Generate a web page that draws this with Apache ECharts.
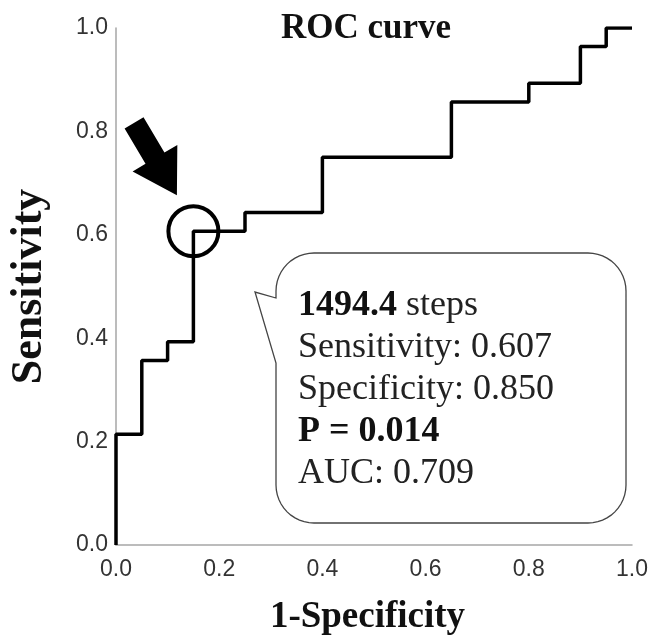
<!DOCTYPE html>
<html lang="en">
<head>
    <meta charset="UTF-8">
    <title>ROC curve</title>
    <style>
        html, body { margin: 0; padding: 0; background: #fff; }
        #main { width: 652px; height: 635px; }
    </style>
    <script src="https://cdn.jsdelivr.net/npm/echarts@6/dist/echarts.min.js"></script>
</head>
<body>
<div id="main"></div>
<script type="text/javascript">

    // ROC vertices (1-specificity, sensitivity)
    var fpr = [0, 0, 0.05, 0.05, 0.10, 0.10, 0.15, 0.15, 0.25, 0.25, 0.40, 0.40, 0.65, 0.65, 0.80, 0.80, 0.90, 0.90, 0.95, 0.95, 1.0];
    var tpr = [0, 0.214, 0.214, 0.357, 0.357, 0.393, 0.393, 0.607, 0.607, 0.643, 0.643, 0.75, 0.75, 0.857, 0.857, 0.893, 0.893, 0.964, 0.964, 1.0, 1.0];

    // cut-off point that is circled
    var cutoff = [0.15, 0.607];

    var calloutLines = [
        ['1494.4', ' steps'],
        ['', 'Sensitivity: 0.607'],
        ['', 'Specificity: 0.850'],
        ['P = 0.014', ''],
        ['', 'AUC: 0.709']
    ];

    var curve = fpr.map(function (x, i) { return [x, tpr[i]]; });

    var serif = 'Liberation Serif';
    var sans = 'Liberation Sans';

    var myChart = echarts.init(document.getElementById('main'));

    var axisCommon = {
        type: 'value',
        min: 0,
        max: 1,
        interval: 0.2,
        axisLine: { show: true, lineStyle: { color: '#a6a6a6', width: 1.5 } },
        axisTick: { show: false },
        splitLine: { show: false },
        axisLabel: {
            color: '#333',
            fontFamily: sans,
            fontSize: 23,
            formatter: function (v) { return v.toFixed(1); }
        }
    };

    var option = {
        animation: false,
        title: {
            text: 'ROC curve',
            left: 276,
            top: 6,
            textStyle: { fontFamily: serif, fontWeight: 'bold', fontSize: 35, color: '#111' }
        },
        grid: { left: 116, right: 20, top: 28, bottom: 90, containLabel: false, outerBoundsMode: 'none' },
        xAxis: Object.assign({}, axisCommon, {
            name: '1-Specificity',
            nameLocation: 'middle',
            nameGap: 54,
            nameTextStyle: { fontFamily: serif, fontWeight: 'bold', fontSize: 37, color: '#111', padding: [0, 13, 0, 0] },
            axisLabel: Object.assign({}, axisCommon.axisLabel, { margin: 13 })
        }),
        yAxis: Object.assign({}, axisCommon, {
            name: 'Sensitivity',
            nameLocation: 'middle',
            nameGap: 64,
            nameTextStyle: { fontFamily: serif, fontWeight: 'bold', fontSize: 44, color: '#111' },
            axisLabel: Object.assign({}, axisCommon.axisLabel, { margin: 8 })
        }),
        series: [{
            type: 'line',
            data: curve,
            showSymbol: false,
            lineStyle: { color: '#000', width: 3.5 },
            z: 3
        }, {
            type: 'scatter',
            data: [cutoff],
            symbol: 'circle',
            symbolSize: 50,
            itemStyle: { color: 'rgba(0,0,0,0)', borderColor: '#000', borderWidth: 4, opacity: 1 },
            z: 4
        }]
    };

    myChart.setOption(option);

    // arrow pointing at the circled cut-off
    var c = myChart.convertToPixel({ gridIndex: 0 }, cutoff);
    var tip = [c[0] - 16.5, c[1] - 36];
    var d = [0.51, 0.86], n = [0.86, -0.51];
    var headLen = 43, headHalf = 26, shaftHalf = 11, totalLen = 84;
    function pt(along, side) {
        return [tip[0] - along * d[0] + side * n[0], tip[1] - along * d[1] + side * n[1]];
    }
    var arrowPts = [
        pt(0, 0), pt(headLen, headHalf), pt(headLen, shaftHalf), pt(totalLen, shaftHalf),
        pt(totalLen, -shaftHalf), pt(headLen, -shaftHalf), pt(headLen, -headHalf)
    ];

    // callout bubble outline (rounded box with a tail on the left)
    var L = 276, R = 626, T = 253, B = 523, r = 38;
    var tailTip = [255, 292], tailUp = 298, tailLow = 363;
    var bubblePts = [];
    function corner(cx, cy, a0, a1) {
        for (var k = 0; k <= 12; k++) {
            var a = (a0 + (a1 - a0) * k / 12) * Math.PI / 180;
            bubblePts.push([cx + r * Math.cos(a), cy + r * Math.sin(a)]);
        }
    }
    corner(L + r, T + r, 180, 270);
    corner(R - r, T + r, 270, 360);
    corner(R - r, B - r, 0, 90);
    corner(L + r, B - r, 90, 180);
    bubblePts.push([L, tailLow], tailTip, [L, tailUp]);

    var text = calloutLines.map(function (p) {
        var s = '';
        if (p[0]) s += '{b|' + p[0] + '}';
        if (p[1]) s += '{r|' + p[1] + '}';
        return s;
    }).join('\n');

    myChart.setOption({
        graphic: [{
            type: 'polygon',
            shape: { points: arrowPts },
            style: { fill: '#000' },
            z: 10
        }, {
            type: 'polygon',
            shape: { points: bubblePts },
            style: { fill: '#fff', stroke: '#444', lineWidth: 1.3 },
            z: 10
        }, {
            type: 'text',
            left: 298,
            top: 288,
            z: 11,
            style: {
                text: text,
                rich: {
                    b: { fontFamily: serif, fontWeight: 'bold', fontSize: 36, lineHeight: 42, fill: '#111' },
                    r: { fontFamily: serif, fontSize: 36, lineHeight: 42, fill: '#222' }
                }
            }
        }]
    });

</script>
</body>
</html>
